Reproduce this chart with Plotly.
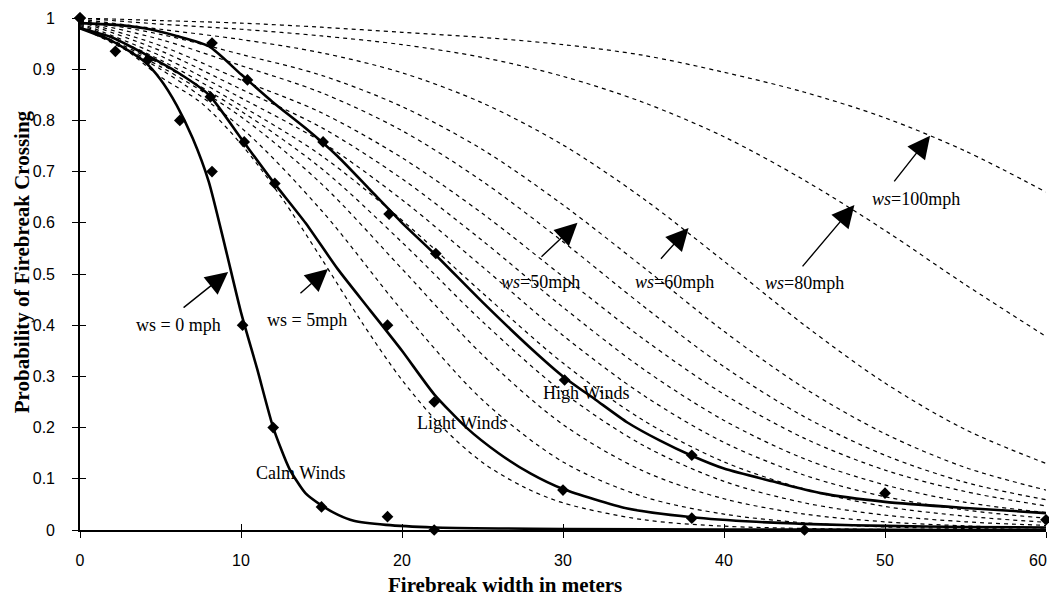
import plotly.graph_objects as go

# ---------------- data ----------------
width_grid = [0, 5, 10, 15, 20, 25, 30, 35, 40, 45, 50, 55, 60]

ws100 = [1.0, 0.995, 0.99, 0.982, 0.972, 0.962, 0.948, 0.927, 0.894, 0.855, 0.805, 0.74, 0.66]
ws80 = [1.0, 0.988, 0.978, 0.965, 0.948, 0.923, 0.886, 0.835, 0.768, 0.683, 0.585, 0.479, 0.378]
ws60 = [0.998, 0.978, 0.958, 0.932, 0.893, 0.834, 0.752, 0.647, 0.525, 0.40, 0.287, 0.196, 0.13]
ws50 = [0.996, 0.968, 0.929, 0.888, 0.827, 0.743, 0.635, 0.513, 0.388, 0.277, 0.188, 0.122, 0.078]
ws45 = [0.995, 0.958, 0.907, 0.854, 0.780, 0.681, 0.563, 0.437, 0.319, 0.221, 0.146, 0.093, 0.059]
ws40 = [0.994, 0.946, 0.879, 0.815, 0.727, 0.618, 0.495, 0.373, 0.265, 0.179, 0.117, 0.075, 0.047]
ws35 = [0.993, 0.936, 0.861, 0.786, 0.686, 0.565, 0.435, 0.314, 0.214, 0.139, 0.088, 0.054, 0.034]
ws30 = [0.99, 0.926, 0.844, 0.758, 0.645, 0.514, 0.380, 0.263, 0.171, 0.107, 0.065, 0.039, 0.023]
ws25 = [0.988, 0.918, 0.829, 0.731, 0.605, 0.463, 0.326, 0.214, 0.133, 0.080, 0.046, 0.027, 0.015]
ws20 = [0.986, 0.91, 0.818, 0.706, 0.562, 0.407, 0.269, 0.165, 0.095, 0.053, 0.029, 0.016, 0.009]
ws15 = [0.984, 0.905, 0.807, 0.676, 0.510, 0.342, 0.206, 0.115, 0.061, 0.031, 0.016, 0.008, 0.004]
ws10 = [0.982, 0.90, 0.786, 0.624, 0.429, 0.254, 0.133, 0.065, 0.031, 0.014, 0.006, 0.003, 0.001]

ws5_width = [0, 2.5, 5, 7.5, 10, 12.5, 15, 17.5, 20, 22.5, 25, 27.5, 30, 35, 40, 45, 50, 55, 60]
ws5 = [0.98, 0.945, 0.885, 0.835, 0.754, 0.650, 0.530, 0.406, 0.293, 0.201, 0.132, 0.085,
       0.053, 0.020, 0.0075, 0.003, 0.001, 0.0004, 0.0001]

calm_width = [0, 2, 4, 5, 6, 7, 8, 9, 10, 11, 12, 13, 14, 15, 16, 17, 19, 22, 26, 30, 40, 50, 60]
calm_fit = [0.98, 0.955, 0.915, 0.88, 0.83, 0.765, 0.68, 0.555, 0.425, 0.315, 0.20, 0.12, 0.072,
            0.048, 0.03, 0.018, 0.01, 0.005, 0.003, 0.002, 0.001, 0.0005, 0.0]
calm_obs_width = [0, 2.2, 4.2, 6.2, 8.2, 10.1, 12, 15, 19.1, 22, 45]
calm_obs = [1.0, 0.935, 0.918, 0.80, 0.70, 0.40, 0.20, 0.045, 0.026, 0.0, 0.0]

light_width = [0, 2, 4, 6, 8, 10, 12, 14, 16, 18, 20, 22, 24, 26, 28, 30, 34, 38, 42, 46, 50, 55, 60]
light_fit = [0.98, 0.962, 0.93, 0.895, 0.85, 0.765, 0.68, 0.60, 0.51, 0.43, 0.35, 0.265, 0.20,
             0.15, 0.11, 0.08, 0.042, 0.025, 0.016, 0.011, 0.008, 0.006, 0.005]
light_obs_width = [0, 8.1, 10.2, 12.1, 19.1, 22, 30, 38]
light_obs = [1.0, 0.846, 0.758, 0.677, 0.40, 0.25, 0.078, 0.023]

high_width = [0, 2, 4, 6, 8, 10, 12, 14, 16, 18, 20, 22, 25, 28, 30, 32, 34, 36, 38, 40, 43, 46, 50, 55, 60]
high_fit = [0.99, 0.987, 0.98, 0.965, 0.945, 0.89, 0.835, 0.785, 0.73, 0.665, 0.60, 0.54, 0.445,
            0.355, 0.30, 0.255, 0.21, 0.175, 0.145, 0.12, 0.095, 0.072, 0.055, 0.043, 0.033]
high_obs_width = [0, 8.2, 10.4, 15.1, 19.2, 22.1, 30.1, 38, 50, 60]
high_obs = [1.0, 0.951, 0.879, 0.758, 0.617, 0.54, 0.293, 0.146, 0.072, 0.02]

x_ticks = [0, 10, 20, 30, 40, 50, 60]
x_tick_labels = ["0", "10", "20", "30", "40", "50", ""]   # "60" drawn as a right-anchored label
last_x_label = "60"
y_ticks = [0, 0.1, 0.2, 0.3, 0.4, 0.5, 0.6, 0.7, 0.8, 0.9, 1]
y_tick_labels = ["0", "0.1", "0.2", "0.3", "0.4", "0.5", "0.6", "0.7", "0.8", "0.9", "1"]

# ---------------- figure ----------------
fig = go.Figure()

dashed_sets = [ws100, ws80, ws60, ws50, ws45, ws40, ws35, ws30, ws25, ws20, ws15, ws10]
for vals in dashed_sets:
    fig.add_trace(go.Scatter(x=width_grid, y=vals, mode="lines",
                             line=dict(color="black", width=1.2, dash="4px,4px",
                                       shape="spline", smoothing=0.9),
                             hoverinfo="skip", showlegend=False))
fig.add_trace(go.Scatter(x=ws5_width, y=ws5, mode="lines",
                         line=dict(color="black", width=1.2, dash="4px,4px",
                                   shape="spline", smoothing=0.9),
                         hoverinfo="skip", showlegend=False))

for wx, wy in [(calm_width, calm_fit), (light_width, light_fit), (high_width, high_fit)]:
    fig.add_trace(go.Scatter(x=wx, y=wy, mode="lines",
                             line=dict(color="black", width=2.6, shape="spline", smoothing=0.6),
                             hoverinfo="skip", showlegend=False))

for wx, wy in [(calm_obs_width, calm_obs), (light_obs_width, light_obs), (high_obs_width, high_obs)]:
    fig.add_trace(go.Scatter(x=wx, y=wy, mode="markers",
                             marker=dict(symbol="diamond", size=9, color="black"),
                             cliponaxis=False, hoverinfo="skip", showlegend=False))

# invisible trace on overlay axes (for crossing tick marks)
fig.add_trace(go.Scatter(x=[0], y=[0], xaxis="x2", yaxis="y2", mode="markers",
                         marker=dict(size=1, color="rgba(0,0,0,0)"),
                         hoverinfo="skip", showlegend=False))

serif = "Liberation Serif"
sans = "Liberation Sans"

annotations = []
labels = [
    (6.1, 0.40, "ws = 0 mph"),
    (14.1, 0.41, "ws = 5mph"),
    (28.6, 0.484, "<i>ws</i>=50mph"),
    (36.9, 0.484, "<i>ws</i>=60mph"),
    (45.0, 0.482, "<i>ws</i>=80mph"),
    (51.9, 0.646, "<i>ws</i>=100mph"),
    (13.7, 0.111, "Calm Winds"),
    (23.7, 0.209, "Light Winds"),
    (31.4, 0.268, "High Winds"),
]
for lx, ly, lt in labels:
    annotations.append(dict(x=lx, y=ly, xref="x", yref="y", text=lt, showarrow=False,
                            xanchor="center", yanchor="middle",
                            font=dict(family=serif, size=18, color="black")))

# arrows: (head_x, head_y, tail_x, tail_y)
arrows = [
    (9.2, 0.504, 6.34, 0.432),
    (15.4, 0.51, 13.6, 0.46),
    (30.9, 0.60, 28.57, 0.531),
    (37.8, 0.59, 36.0, 0.527),
    (48.1, 0.635, 44.8, 0.512),
    (52.8, 0.77, 50.5, 0.678),
]
for hx, hy, tx, ty in arrows:
    annotations.append(dict(x=hx, y=hy, ax=tx, ay=ty, xref="x", yref="y", axref="x", ayref="y",
                            text="", showarrow=True, arrowhead=2, arrowsize=3.2,
                            arrowwidth=1.4, arrowcolor="black"))

# last x tick label, kept inside the visible page
annotations.append(dict(x=x_ticks[-1], y=-0.0586, xref="x", yref="paper", text=last_x_label,
                        showarrow=False, xanchor="right", yanchor="middle", xshift=3,
                        font=dict(family=sans, size=16, color="black")))

annotations.append(dict(x=26.4, y=-0.107, xref="x", yref="paper", text="<b>Firebreak width in meters</b>",
                        showarrow=False, xanchor="center", yanchor="middle",
                        font=dict(family=serif, size=21, color="black")))
annotations.append(dict(x=-0.060, y=0.523, xref="paper", yref="paper",
                        text="<b>Probability of Firebreak Crossing</b>", textangle=-90,
                        showarrow=False, xanchor="center", yanchor="middle",
                        font=dict(family=serif, size=21, color="black")))

# the page body has an 8px default margin: figure sized/offset to compensate
fig.update_layout(
    width=1049, height=589,
    margin=dict(l=72, r=11, t=10, b=67, autoexpand=False),
    paper_bgcolor="white", plot_bgcolor="white",
    showlegend=False,
    xaxis=dict(range=[0, 60], tickvals=x_ticks, ticktext=x_tick_labels, ticks="outside",
               ticklen=6, tickwidth=1.3,
               tickcolor="black", showline=True, linecolor="black", linewidth=2,
               showgrid=False, zeroline=False, ticklabelstandoff=9, automargin=False,
               ticklabeloverflow="allow",
               tickfont=dict(family=sans, size=16, color="black")),
    yaxis=dict(range=[0, 1], tickvals=y_ticks, ticktext=y_tick_labels, ticks="outside",
               ticklen=6, tickwidth=1.3, tickcolor="black", showline=True, linecolor="black",
               linewidth=1.6, showgrid=False, zeroline=False, ticklabelstandoff=14,
               automargin=False, ticklabeloverflow="allow",
               tickfont=dict(family=sans, size=16, color="black")),
    xaxis2=dict(range=[0, 60], tickvals=x_ticks, overlaying="x", anchor="y", side="bottom",
                ticks="inside", ticklen=6, tickwidth=1.3, tickcolor="black", automargin=False,
                showticklabels=False, showgrid=False, zeroline=False, showline=False),
    yaxis2=dict(range=[0, 1], tickvals=y_ticks, overlaying="y", anchor="x", side="left",
                ticks="inside", ticklen=6, tickwidth=1.3, tickcolor="black", automargin=False,
                showticklabels=False, showgrid=False, zeroline=False, showline=False),
    annotations=annotations,
)

fig.write_html("out.html")
